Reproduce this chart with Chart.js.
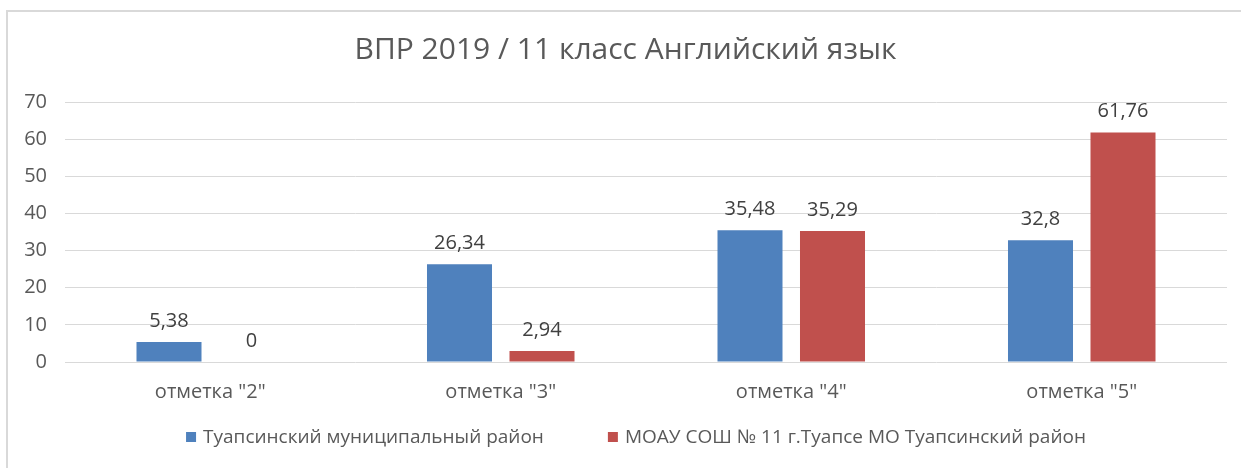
<!DOCTYPE html>
<html lang="ru">
<head>
<meta charset="utf-8">
<script src="https://cdn.jsdelivr.net/npm/chart.js@4/dist/chart.umd.min.js"></script>
<style>
  html, body { margin: 0; padding: 0; background: #ffffff; }
  #wrap { position: relative; width: 1241px; height: 468px; }
  canvas { display: block; }
</style>
</head>
<body>
<div id="wrap"><canvas id="chart" width="1241" height="468"></canvas></div>
<script>
// Chart data
const categories = ['отметка "2"', 'отметка "3"', 'отметка "4"', 'отметка "5"'];
const seriesNames = ['Туапсинский муниципальный район', 'МОАУ СОШ № 11 г.Туапсе МО Туапсинский район'];
const districtValues = [5.38, 26.34, 35.48, 32.8];
const schoolValues = [0, 2.94, 35.29, 61.76];
const yTicks = [0, 10, 20, 30, 40, 50, 60, 70];
const chartTitle = 'ВПР 2019 / 11 класс Английский язык';

const FONT = "'Open Sans', 'Noto Sans', 'DejaVu Sans', sans-serif";
const BLUE = '#4f81bd';
const RED = '#c0504d';
const TEXT_GREY = '#595959';
const LABEL_DARK = '#404040';
const GRID = '#d9d9d9';

const fmt = v => String(v).replace('.', ',');

// Frame lines around the chart
const framePlugin = {
  id: 'frame',
  beforeDraw(chart) {
    const ctx = chart.ctx;
    ctx.save();
    ctx.fillStyle = '#ffffff';
    ctx.fillRect(0, 0, chart.width, chart.height);
    ctx.strokeStyle = '#d9d9d9';
    ctx.lineWidth = 2;
    ctx.beginPath();
    ctx.moveTo(7, chart.height);
    ctx.lineTo(7, 11);
    ctx.lineTo(chart.width, 11);
    ctx.stroke();
    ctx.restore();
  }
};

// Value labels above each bar
const valueLabelPlugin = {
  id: 'valueLabels',
  afterDatasetsDraw(chart) {
    const ctx = chart.ctx;
    ctx.save();
    ctx.font = '20px ' + FONT;
    ctx.fillStyle = LABEL_DARK;
    ctx.textAlign = 'center';
    ctx.textBaseline = 'middle';
    chart.data.datasets.forEach((ds, di) => {
      const meta = chart.getDatasetMeta(di);
      meta.data.forEach((bar, i) => {
        ctx.fillText(fmt(ds.data[i]), bar.x, bar.y - 21);
      });
    });
    ctx.restore();
  }
};

// Legend row under the axis
const legendRowPlugin = {
  id: 'legendRow',
  afterDraw(chart) {
    const ctx = chart.ctx;
    ctx.save();
    ctx.font = '19px ' + FONT;
    ctx.textBaseline = 'middle';
    ctx.textAlign = 'left';
    const box = 10, boxGap = 7, itemGap = 64;
    const items = chart.data.datasets.map(ds => ({
      text: ds.label, color: ds.backgroundColor,
      w: box + boxGap + ctx.measureText(ds.label).width
    }));
    const total = items.reduce((s, it) => s + it.w, 0) + itemGap * (items.length - 1);
    let x = 636 - total / 2;
    const y = 437;
    items.forEach(it => {
      ctx.fillStyle = it.color;
      ctx.fillRect(x, y - box / 2, box, box);
      ctx.fillStyle = TEXT_GREY;
      ctx.fillText(it.text, x + box + boxGap, y + 1);
      x += it.w + itemGap;
    });
    ctx.restore();
  }
};

new Chart(document.getElementById('chart'), {
  type: 'bar',
  data: {
    labels: categories,
    datasets: [
      { label: seriesNames[0], data: districtValues, backgroundColor: BLUE },
      { label: seriesNames[1], data: schoolValues, backgroundColor: RED }
    ]
  },
  options: {
    responsive: false,
    animation: false,
    devicePixelRatio: 1,
    layout: { padding: { left: 24, right: 14, top: 0, bottom: 56 } },
    datasets: { bar: { categoryPercentage: 0.568, barPercentage: 0.788 } },
    plugins: {
      legend: { display: false },
      tooltip: { enabled: false },
      title: {
        display: true,
        text: chartTitle,
        color: TEXT_GREY,
        font: { family: FONT, size: 30, weight: 'normal' },
        padding: { top: 32, bottom: 34 }
      }
    },
    scales: {
      x: {
        grid: { display: false, drawTicks: false },
        border: { display: false },
        ticks: { color: TEXT_GREY, font: { family: FONT, size: 20 }, padding: 18 },
        afterFit(scale) { scale.height = 50; }
      },
      y: {
        min: 0, max: 70,
        afterBuildTicks(scale) { scale.ticks = yTicks.map(v => ({ value: v })); },
        grid: { color: GRID, lineWidth: 1, drawTicks: false },
        border: { display: false },
        ticks: { color: TEXT_GREY, font: { family: FONT, size: 20 }, padding: 18 },
        afterFit(scale) { scale.width = 41; }
      }
    }
  },
  plugins: [framePlugin, valueLabelPlugin, legendRowPlugin]
});
</script>
</body>
</html>
